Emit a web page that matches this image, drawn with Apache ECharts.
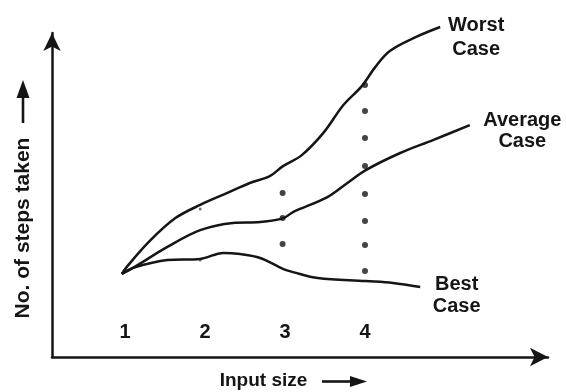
<!DOCTYPE html>
<html>
<head>
<meta charset="utf-8">
<script src="https://cdn.jsdelivr.net/npm/echarts@6/dist/echarts.min.js"></script>
<style>
  html, body { margin: 0; padding: 0; background: #fff; }
  #chart { width: 566px; height: 392px; }
</style>
</head>
<body>
<div id="chart"></div>
<script>
// Growth of the number of steps with input size for the three cases.
const tickValues = [1, 2, 3, 4];
const tickLabels = ['1', '2', '3', '4'];

const worstCase = [
  [0.96, 27.7], [1.03, 30.3], [1.31, 38.7], [1.63, 46.3], [1.94, 50.7],
  [2.28, 54.7], [2.56, 58.0], [2.81, 60.3], [2.98, 63.7], [3.21, 67.3],
  [3.48, 74.7], [3.73, 84.0], [3.96, 90.3], [4.13, 96.7], [4.31, 102.0],
  [4.64, 106.7], [4.94, 110.0]
];
const averageCase = [
  [0.96, 27.7], [1.10, 29.7], [1.53, 36.7], [1.94, 42.3], [2.35, 44.7],
  [2.69, 45.0], [2.98, 46.3], [3.10, 48.3], [3.53, 53.3], [3.78, 58.0],
  [4.01, 62.3], [4.44, 68.0], [4.85, 72.3], [5.31, 77.3]
];
const bestCase = [
  [0.96, 27.7], [1.10, 29.7], [1.53, 32.3], [1.94, 32.7], [2.23, 34.7],
  [2.44, 34.3], [2.69, 33.0], [2.98, 29.3], [3.10, 28.3], [3.41, 26.3],
  [4.01, 25.3], [4.35, 24.7], [4.69, 23.3]
];

// dotted guides dropped at input sizes 3 and 4, small marks at 2
const guideDots = [
  [2.97, 54.7], [2.97, 46.3], [2.97, 37.7],
  [4.0, 90.7], [4.0, 82.0], [4.0, 73.0], [4.0, 63.7],
  [4.0, 54.3], [4.0, 45.3], [4.0, 37.3], [4.0, 28.7]
];
const smallMarks = [[1.94, 49.3], [1.94, 32.3]];

const FONT = '"Liberation Sans", Arial, sans-serif';
const INK = '#151515';

const chart = echarts.init(document.getElementById('chart'), null, { renderer: 'canvas' });

function curve(name, data, text, offset, lineHeight) {
  return {
    type: 'line',
    name: name,
    data: data,
    smooth: 0.35,
    symbol: 'none',
    clip: false,
    silent: true,
    lineStyle: { color: INK, width: 2.5 },
    endLabel: {
      show: true,
      formatter: text,
      distance: 0,
      align: 'center',
      verticalAlign: 'middle',
      offset: offset,
      fontFamily: FONT,
      fontWeight: 'bold',
      fontSize: 20,
      lineHeight: lineHeight,
      color: INK
    }
  };
}

chart.setOption({
  animation: false,
  backgroundColor: '#fff',
  grid: { left: 52, right: 18, top: 33, bottom: 35, containLabel: false, outerBoundsMode: 'none' },
  xAxis: {
    type: 'value',
    min: 0.0875,
    max: 6.2875,
    name: 'Input size',
    nameLocation: 'middle',
    nameGap: 24,
    nameTextStyle: {
      fontFamily: FONT, fontWeight: 'bold', fontSize: 19, color: INK,
      verticalAlign: 'middle', padding: [0, 73, 0, 0]
    },
    axisLine: {
      onZero: false,
      symbol: ['none', 'arrow'],
      symbolSize: [14, 18],
      lineStyle: { color: INK, width: 2.5 }
    },
    axisTick: { show: false },
    splitLine: { show: false },
    axisLabel: {
      customValues: tickValues,
      formatter: (v) => tickLabels[tickValues.indexOf(v)],
      inside: true,
      margin: 15,
      fontFamily: FONT,
      fontWeight: 'bold',
      fontSize: 20,
      color: INK
    }
  },
  yAxis: {
    type: 'value',
    min: 0,
    max: 108,
    name: 'No. of steps taken',
    nameLocation: 'middle',
    nameRotate: 90,
    nameGap: 29,
    nameTextStyle: {
      fontFamily: FONT, fontWeight: 'bold', fontSize: 21, color: INK,
      verticalAlign: 'middle', padding: [0, 66, 0, 0]
    },
    axisLine: {
      show: true,
      symbol: ['none', 'arrow'],
      symbolSize: [13, 18],
      lineStyle: { color: INK, width: 2.5 }
    },
    axisTick: { show: false },
    splitLine: { show: false },
    axisLabel: { show: false }
  },
  graphic: [
    // arrow beside the vertical axis title
    { type: 'line', shape: { x1: 23, y1: 123, x2: 23, y2: 96 }, style: { stroke: INK, lineWidth: 2.6 } },
    { type: 'polygon', shape: { points: [[23, 80], [16.5, 98], [29.5, 98]] }, style: { fill: INK } },
    // arrow beside the horizontal axis title
    { type: 'line', shape: { x1: 322, y1: 381.5, x2: 352, y2: 381.5 }, style: { stroke: INK, lineWidth: 2.6 } },
    { type: 'polygon', shape: { points: [[367, 381.5], [350, 376], [350, 387]] }, style: { fill: INK } }
  ],
  series: [
    curve('Worst Case', worstCase, 'Worst\nCase', [36, 10.5], 24),
    curve('Average Case', averageCase, 'Average\nCase', [52.5, 5.5], 21),
    curve('Best Case', bestCase, 'Best\nCase', [36.5, 8], 22),
    {
      type: 'scatter',
      data: guideDots,
      symbol: 'circle',
      symbolSize: 6,
      silent: true,
      itemStyle: { color: INK }
    },
    {
      type: 'scatter',
      data: smallMarks,
      symbol: 'circle',
      symbolSize: 3,
      silent: true,
      itemStyle: { color: '#555' }
    }
  ]
});
</script>
</body>
</html>
